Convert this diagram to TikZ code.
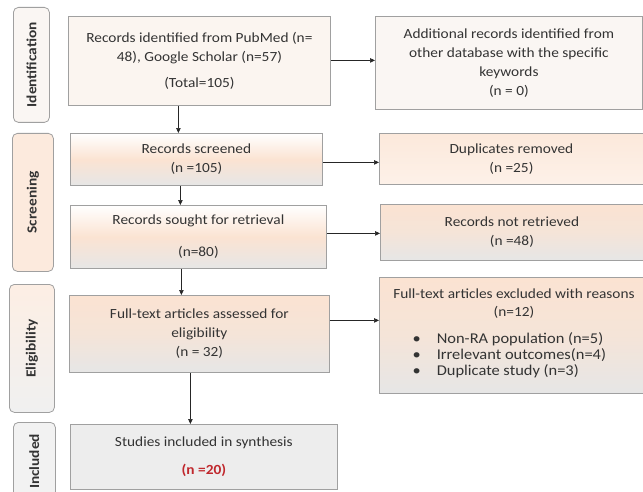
\documentclass[tikz,border=0pt]{standalone}
\usepackage{fontspec}
\setmainfont{Carlito}[FakeStretch=1.1]
\usetikzlibrary{arrows.meta,calc}
\definecolor{bordc}{HTML}{A0A0A0}
\definecolor{peach}{HTML}{FBE3D2}
\definecolor{lgray}{HTML}{E6E6E6}
\definecolor{cream}{HTML}{FBF5F0}
\definecolor{cream2}{HTML}{FAF6F3}
\definecolor{redtxt}{HTML}{C0282D}
\definecolor{txt}{HTML}{333333}
\tikzset{
  box/.style={draw=bordc, line width=0.8pt, anchor=north west, align=center, inner sep=2pt,
    font=\fontsize{14}{19}\selectfont, text=txt},
  plain/.style={align=center, inner sep=0pt, font=\fontsize{14}{19}\selectfont, text=txt},
  grad/.style={top color=white, bottom color=lgray, middle color=peach},
  grad2/.style={top color=peach, bottom color=lgray, middle color=peach!70!lgray},
  side/.style={draw=bordc, line width=0.8pt, rounded corners=5pt, anchor=north west},
  sidetext/.style={rotate=90, font=\fontsize{14}{16}\selectfont\bfseries, text=txt},
  arr/.style={-{Triangle[length=5pt,width=4.5pt]}, line width=0.7pt, black!85}
}
\begin{document}
\begin{tikzpicture}[x=1bp,y=-1bp]
\useasboundingbox (0,0) rectangle (643,492);
% side labels
\node[side, fill=cream2, minimum width=36bp, minimum height=115bp] (sid) at (13,7) {};
\node[sidetext] (tid) at (sid.center) {Identification};
\node[side, fill=peach!75, minimum width=41bp, minimum height=138bp] (ssc) at (12,133) {};
\node[sidetext] (tsc) at (ssc.center) {Screening};
\node[side, top color=peach!60, bottom color=lgray!60, minimum width=45bp, minimum height=128bp] (sel) at (9,284) {};
\node[sidetext] (tel) at (sel.center) {Eligibility};
\node[side, fill=lgray!50, minimum width=42bp, minimum height=80bp] (sin) at (13,422) {};
\node[sidetext] (tin) at ([yshift=1bp]sin.center) {Included};
% main boxes
\node[box, fill=cream, minimum width=262bp, minimum height=89bp] (b1) at (68,16)
  {Records identified from PubMed (n=\\48), Google Scholar (n=57)\\[7pt](Total=105)};
\node[box, grad, minimum width=252bp, minimum height=52bp] (b2) at (70,133)
  {Records screened\\(n =105)};
\node[box, grad, minimum width=256bp, minimum height=63bp] (b3) at (70,205)
  {Records sought for retrieval\\[13pt](n=80)};
\node[box, grad2, minimum width=260bp, minimum height=77bp] (b4) at (69,295)
  {Full-text articles assessed for\\eligibility\\(n = 32)};
\node[box, fill=lgray!70, minimum width=267bp, minimum height=65bp] (b5) at (70,424)
  {Studies included in synthesis\\[9pt]{\bfseries\color{redtxt}(n =20)}};
% right boxes
\node[box, fill=cream2, minimum width=267bp, minimum height=93bp] (r1) at (375,16)
  {Additional records identified from\\other database with the specific\\keywords\\(n = 0)};
\node[box, top color=peach!80, bottom color=peach!50, minimum width=264bp, minimum height=51bp] (r2) at (379,133)
  {Duplicates removed\\(n =25)};
\node[box, grad2, minimum width=263bp, minimum height=56bp] (r3) at (380,204)
  {Records not retrieved\\(n =48)};
\node[box, grad2, minimum width=264bp, minimum height=116bp] (r4) at (379,277) {};
\node[plain, font=\fontsize{14}{18}\selectfont] (r4t) at (514,304)
  {Full-text articles excluded with reasons\\(n=12)};
\node[plain, anchor=west, font=\fontsize{15}{16}\selectfont] (r4l) at (412.5,356)
  {\begin{tabular}{@{}l@{\hspace{16pt}}l@{}}
   \textbullet&Non-RA population (n=5)\\
   \textbullet&Irrelevant outcomes(n=4)\\
   \textbullet&Duplicate study (n=3)
   \end{tabular}};
% horizontal arrows
\draw[arr] ([yshift=0.5bp]b1.east) -- ([yshift=0.5bp]b1.east -| r1.west);
\draw[arr] ([yshift=-3bp]b2.east) -- ([yshift=-3bp]b2.east -| r2.west);
\draw[arr] ([yshift=3.5bp]b3.east) -- ([yshift=3.5bp]b3.east -| r3.west);
\draw[arr] ([yshift=13.5bp]b4.east) -- ([yshift=13.5bp]b4.east -| r4.west);
% vertical arrows
\draw[arr] ([xshift=-21bp]b1.south) -- ([xshift=-21bp]b1.south |- b2.north);
\draw[arr] ([xshift=-16bp]b2.south) -- ([xshift=-16bp]b2.south |- b3.north);
\draw[arr] ([xshift=-17bp]b3.south) -- ([xshift=-17bp]b3.south |- b4.north);
\draw[arr] ([xshift=-9bp]b4.south) -- ([xshift=-9bp]b4.south |- b5.north);
\end{tikzpicture}
\end{document}
